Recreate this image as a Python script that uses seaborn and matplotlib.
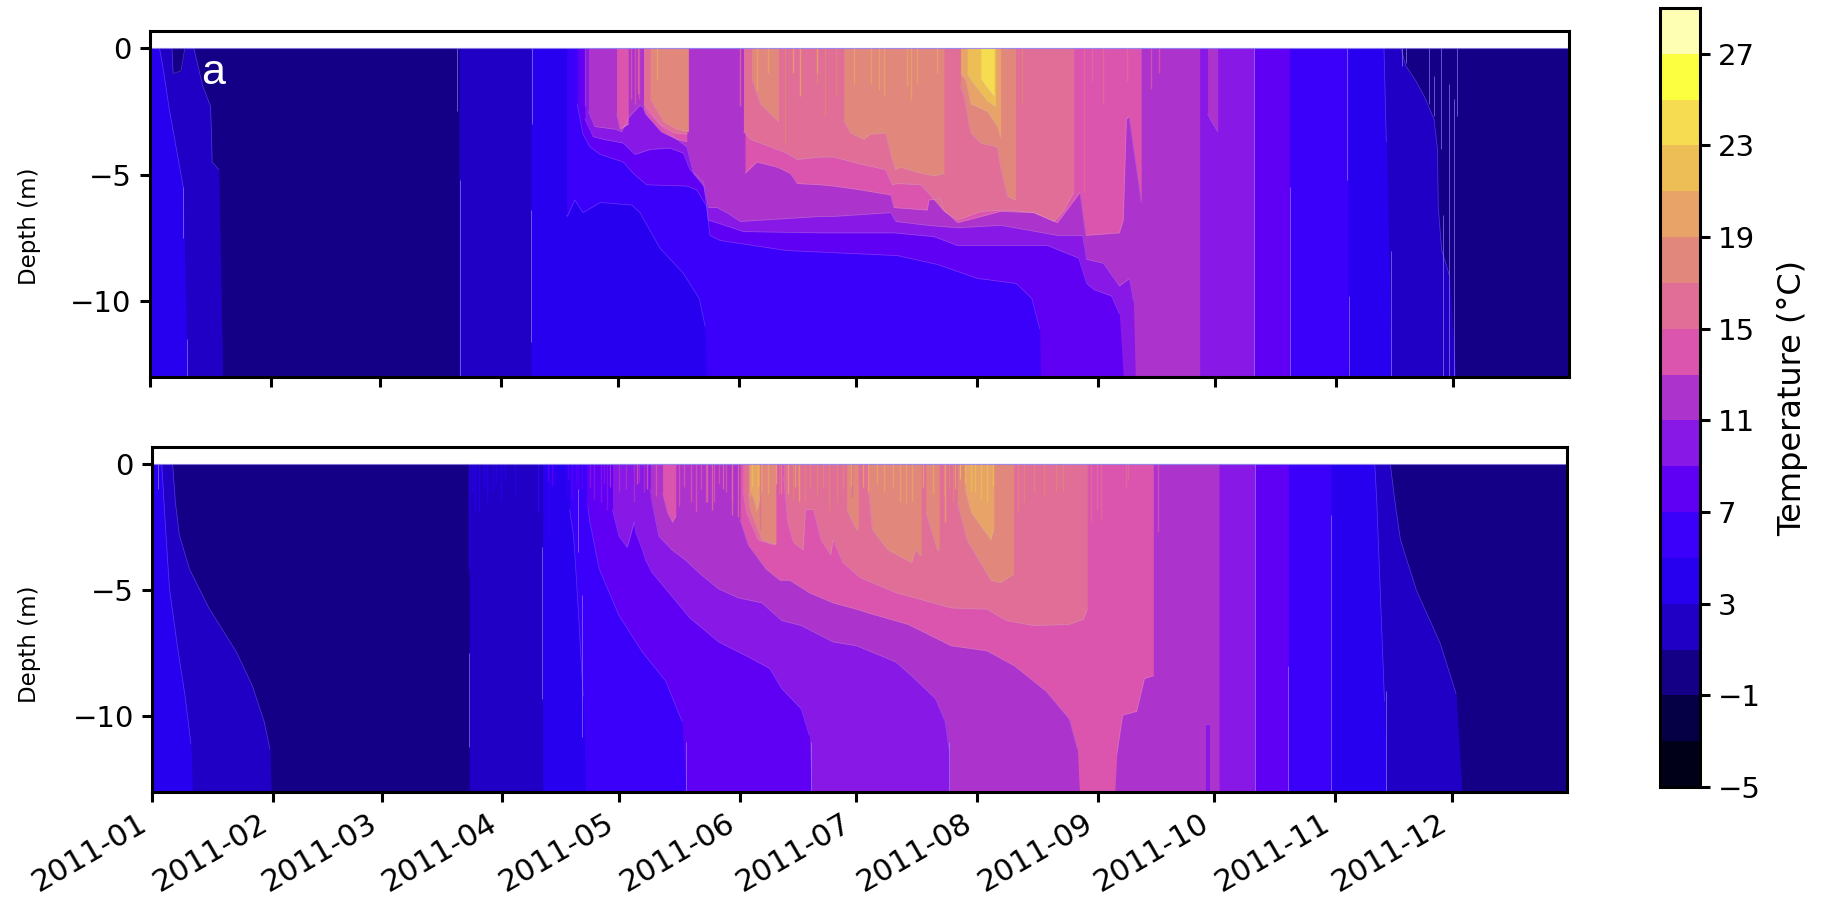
import numpy as np
import pandas as pd
import matplotlib
matplotlib.use("Agg")
import matplotlib.pyplot as plt
import matplotlib.dates as mdates
from matplotlib.cm import ScalarMappable
from matplotlib.colors import BoundaryNorm, ListedColormap
import seaborn as sns

W, H = 1825, 902

LEVELS = [-5, -3, -1, 1, 3, 5, 7, 9, 11, 13, 15, 17, 19, 21, 23, 25, 27, 29]
BAND_COLORS = ["#000019", "#050046", "#140087", "#2000c4", "#2800f0", "#3a00fa", "#5f00f5",
               "#8718e6", "#ac33cb", "#db55ae", "#e06e96", "#e1877b", "#e8a468", "#ecbe55",
               "#f5dc50", "#fcff40", "#ffffb4"]
CBAR_TICKS = [-5, -1, 3, 7, 11, 15, 19, 23, 27]
MONTHS = ["2011-%02d-01" % m for m in range(1, 13)]

# ---- panel a: warm regions (T >= level), day of year, upper and lower depth
A_L1a_DAY = [0, 5.7, 6, 8, 9, 11.3, 11.6, 13.6, 15.6, 16, 17.7, 18.7]
A_L1a_UP = [0, 0, -1, -0.9, 0, 0, -0.2, -1.5, -2.3, -4.5, -4.8, -13]
A_L1b_DAY = [79.2, 320.5, 321.8, 324.4, 326.5, 329, 329.9, 330.1, 331, 333, 334.6]
A_L1b_UP = [0, 0, -0.7, -1.3, -1.9, -2.8, -4, -6.3, -8, -9, -13]
A_L3a_DAY = [0, 2.5, 3.5, 5, 8.6, 9.6]
A_L3a_UP = [0, 0, -0.85, -2.4, -5.5, -13]
A_L3b_DAY = [97.7, 316.2, 316.8, 318.2]
A_L3b_UP = [0, 0, -3.7, -13]
A_L5_DAY = [106.8, 107, 108.9, 111, 115.4, 123.5, 125.6, 130.7, 136.7, 140.8, 142.3, 142.6, 307]
A_L5_LOW = [-6.6, -6.65, -6, -6.5, -6.1, -6.2, -6.5, -7.9, -8.9, -9.9, -11, -13, -13]
A_L7_DAY = [109.5, 111, 112.8, 115.4, 121.3, 123.9, 127.3, 137.6, 140.1, 142.7, 143.5, 146.1, 163.2,
            191.6, 201.8, 212, 222, 226, 228, 228.2, 292]
A_L7_LOW = [-2.2, -3.4, -3.9, -4.2, -4.5, -4.95, -5.4, -5.45, -5.6, -6.25, -7.4, -7.6, -8,
            -8.2, -8.55, -9.1, -9.3, -9.9, -11.1, -13, -13]
A_L9_DAY = [111.5, 113.6, 116.2, 121.3, 124.3, 128.2, 133.3, 136.7, 138.4, 141.9, 143.1, 145.3, 152.1,
            171.8, 190.6, 200.9, 206.9, 230, 238, 240, 242, 246.4, 248.4, 249.4, 283]
A_L9_LOW = [-2.8, -3.5, -3.6, -3.75, -4.2, -4, -3.95, -4.15, -4.8, -5.3, -6.8, -6.9, -7.25,
            -7.3, -7.3, -7.45, -7.8, -7.8, -8.3, -9.3, -9.55, -9.8, -10.5, -13, -13]
A_L11_DAY = [112.4, 114, 119.2, 120.9, 122.6, 125.6, 127.3, 131.6, 135, 137.6, 139.3, 141.9, 143.1, 145.3,
             147.8, 151.3, 171.8, 175.2, 189.8, 191.1, 199.2, 206.9, 218, 232.5, 234, 239, 240, 244.3,
             248.4, 251, 252, 252.5, 269]
A_L11_LOW = [-2.5, -3.1, -3.2, -3.3, -2.75, -2.25, -2.45, -3.15, -3.6, -3.9, -4.95, -5.45, -6.3, -6.3,
             -6.5, -6.85, -6.65, -6.65, -6.5, -6.85, -7, -7.1, -7, -7.4, -7.4, -7.4, -8.35, -8.5,
             -9.4, -9.1, -10, -13, -13]
A_L11s_DAY = [271, 272, 273.6]
A_L11s_LOW = [-2.6, -2.9, -3.3]
A_L13a_DAY = [119.6, 120.5, 122.6]
A_L13a_LOW = [-2.6, -3.2, -3]
A_L13b_DAY = [126.5, 127, 131, 135, 137.6]
A_L13b_LOW = [-2.4, -2.6, -3.3, -3.6, -3.7]
A_L13c_DAY = [152.5, 155.5, 160.7, 164.1, 165.8, 171.8, 175.2, 182, 189.8, 190.6, 199.2, 199.6, 202.6, 203.5,
              206.9, 218, 226.5, 232.5, 234.2, 238.3, 239.8, 248.4, 249.4, 250.2, 250.9, 253.5, 254]
A_L13c_LOW = [-4.95, -4.5, -4.7, -4.95, -5.35, -5.4, -5.45, -5.6, -5.8, -6.3, -6.4, -6, -5.95, -6.4,
              -6.9, -6.45, -6.5, -6.9, -6.55, -5.7, -7.4, -7.3, -6.8, -2.8, -2.7, -5.5, -6.1]
A_L15a_DAY = [126.5, 126.8, 130.7, 134.2, 137.6]
A_L15a_LOW = [-2.2, -2.25, -3, -3.35, -3.4]
A_L15b_DAY = [152.1, 152.5, 153.8, 163.2, 165.8, 171.8, 175.2, 181.2, 188.5, 190.2, 191.5, 197.5, 199.6, 203.5,
              206.9, 212.9, 219.7, 226.5, 231.7, 234.2, 236.7]
A_L15b_LOW = [-3.3, -3.35, -3.6, -4.15, -4.4, -4.3, -4.3, -4.55, -4.8, -5.4, -5.35, -5.4, -5.75, -6.45,
              -6.8, -6.45, -6.4, -6.5, -6.85, -6.4, -5.7]
A_L17a_DAY = [128.2, 128.6, 131.6, 135, 138]
A_L17a_LOW = [-2, -2.1, -2.9, -3.2, -3.3]
A_L17b_DAY = [154.2, 154.7, 156.4, 159.8, 161.1]
A_L17b_LOW = [-1.2, -1.4, -2.2, -2.7, -2.9]
A_L17c_DAY = [177.8, 179.5, 182.9, 184.6, 188.5, 190.2, 191, 192.3, 196.6, 200.9, 203.5]
A_L17c_LOW = [-2.85, -3.35, -3.6, -3.4, -3.35, -4.4, -4.8, -4.7, -4.9, -5.05, -4.95]
A_L17d_DAY = [207.7, 208.6, 210.3, 212.9, 217.1, 218, 219.7, 221.8]
A_L17d_LOW = [-1.5, -1.9, -3.35, -3.75, -3.9, -4.7, -5.85, -6]
A_L19_DAY = [207.7, 209, 210.3, 214.6, 217.1, 218]
A_L19_LOW = [-1, -1.25, -2.2, -2.5, -3.1, -3.55]
A_L21_DAY = [209.4, 210.3, 214.6, 216.7]
A_L21_LOW = [-1, -1.25, -2.1, -2.3]
A_L23_DAY = [212.9, 214.2, 216.3]
A_L23_LOW = [-1.2, -1.5, -1.9]

# panel a surface streaks: day, depth reached, per level
A_S11_DAY = [111.5, 113.2, 116.6, 117.9]
A_S11_D = [-2.3, -2.3, -1.4, -1]
A_S13_DAY = [123.2, 124.2, 125.4, 256.5, 258.5]
A_S13_D = [-2, -2.2, -2, -1.6, -1]
A_S15_DAY = [125, 127, 151.3, 239.3, 241.3, 244.3, 250.4]
A_S15_D = [-1.8, -2, -2.3, -5.7, -1.3, -2.2, -1.3]
A_S17_DAY = [162.8, 171, 173.1, 175.7, 223.5]
A_S17_D = [-3.75, -1.4, -2.7, -1.9, -2.2]
A_S19_DAY = [129.9, 155.5, 158.5, 164.9, 166.6, 170.9, 180.4, 184.8, 186.8, 188.2, 193.9, 195.1, 196.6, 201.7]
A_S19_D = [-1.25, -1.65, -1, -1, -1.9, -1, -1.4, -1.4, -1.65, -1.9, -1.5, -2, -1.4, -1]
# panel a light seams: day, upper depth, lower depth
A_SEAM_DAY = [9.6, 8.6, 78.6, 79.4, 97.7, 97.9, 283, 292.2, 306.8, 307.2, 318,
              320.8, 321.8, 327.8, 329, 330.8, 332.9, 334.2, 334.9, 331.2]
A_SEAM_TOP = [-11.5, -5.5, 0, -5.2, -6.4, 0, 0, -5.5, 0, -9.8, -8,
              0, 0, 0, -1.1, 0, -1.4, -2, 0, -6.6]
A_SEAM_LOW = [-13, -7.5, -2.5, -13, -11.6, -3, -13, -13, -5.2, -13, -13,
              -0.7, -0.6, -2.2, -2.7, -4, -13, -13, -2.7, -13]

# ---- panel b
B_L1a_DAY = [0, 5.3, 6, 7, 9.6, 14.6, 21.7, 25.8, 28.8, 30.3, 30.6]
B_L1a_UP = [0, 0, -1.5, -2.8, -4.15, -5.7, -7.45, -8.8, -10.2, -11.3, -13]
B_L1b_DAY = [81.5, 318.2, 319.3, 320.8, 324.9, 331, 335.1, 336.6]
B_L1b_UP = [0, 0, -1.4, -3, -5, -7.1, -9.1, -13]
B_L3a_DAY = [0, 2.5, 3.5, 4.5, 6.5, 8.5, 10, 10.4]
B_L3a_UP = [0, 0, -2.6, -4.95, -7.2, -9.2, -11.1, -13]
B_L3b_DAY = [100.4, 314.2, 314.7, 315.7, 316.7, 317.2]
B_L3b_UP = [0, 0, -1.4, -5.4, -9.4, -13]
B_L5_DAY = [107.3, 108.3, 108.8, 109.8, 110.8, 111.4, 302.9]
B_L5_LOW = [-1.8, -2.8, -3.9, -6.5, -9.2, -13, -13]
B_L7_DAY = [111.9, 112.4, 114.9, 120, 126, 132, 136.2, 137.2, 292]
B_L7_LOW = [-1.5, -2.2, -4.15, -6, -7.45, -8.6, -10.2, -13, -13]
B_L9_DAY = [118.3, 120, 122.1, 123.9, 124.3, 126, 126.8, 128.5, 132.8, 138.2, 145.6, 152.7, 158.7, 161.8,
            166.8, 168.9, 169.4, 283.4]
B_L9_LOW = [-1.8, -2.85, -3.3, -2.3, -2.7, -3.4, -3.8, -4.3, -5.1, -6.1, -7.05, -7.6, -8.1, -8.9,
            -9.7, -10.75, -13, -13]
B_L11_DAY = [128.1, 128.5, 130.2, 133.6, 137, 141.2, 145.6, 150.6, 156.7, 161.8, 166.8, 175, 181, 191.2, 195.2,
             201.3, 203.8, 204.8, 204.9, 270.7, 270.7, 271.7, 271.7, 274.2]
B_L11_LOW = [-1, -1.5, -2.85, -3.4, -3.8, -4.4, -4.95, -5.3, -5.5, -6.2, -6.4, -7.05, -7.2, -7.85, -8.4,
             -9.3, -10.2, -11.3, -13, -13, -10.3, -10.3, -13, -13]
B_L13a_DAY = [131.2, 132.4, 133.7, 134.6]
B_L13a_LOW = [-1.15, -1.9, -2.3, -2.05]
B_L13b_DAY = [151.1, 153.2, 157.7, 161.3, 163.8, 168.9, 175, 181, 184, 194.2, 205.3, 214.5, 221.6, 229.7,
              235.7, 237.8, 238.3, 247.4, 247.9, 249.4, 253, 255, 257, 257.3]
B_L13b_LOW = [-2.2, -3.2, -4.15, -4.6, -4.6, -5.1, -5.5, -5.75, -5.9, -6.35, -7.2, -7.4, -8, -9,
              -10.1, -11.3, -13, -13, -11.5, -9.95, -9.8, -8.5, -8.4, -8.4]
B_L15a_DAY = [151.8, 152.7, 155.7, 159.8, 160.3]
B_L15a_LOW = [-1, -1.9, -3, -3.2, -3.2]
B_L15b_DAY = [162.3, 163.3, 164.8, 167.3, 167.9, 169.9, 171.9, 174.4, 175, 177.5, 182, 191.2, 198.3, 205.3,
              214.5, 219.5, 226.6, 235.7, 239.3, 240.3]
B_L15b_LOW = [-0.5, -2.3, -3.1, -3.4, -1.8, -1.8, -3, -3.6, -3, -3.9, -4.5, -5.1, -5.4, -5.7,
              -5.75, -6.2, -6.4, -6.35, -6.15, -5.75]
B_L17a_DAY = [153.2, 153.7, 156.7, 159.8, 160.3]
B_L17a_LOW = [-1.2, -1.8, -3, -3.15, -3.15]
B_L17b_DAY = [178.5, 181, 181.5]
B_L17b_LOW = [-1.8, -2.6, -2.6]
B_L17c_DAY = [184.1, 185.1, 189.1, 195.2, 196.2, 197.2, 197.7]
B_L17c_LOW = [-1, -2.6, -3.4, -3.9, -3.4, -3.6, -3.6]
B_L17d_DAY = [198.8, 201.8, 202.3]
B_L17d_LOW = [-1.9, -3.4, -3.4]
B_L17e_DAY = [206.9, 209.4, 215.5, 218, 221, 221.4]
B_L17e_LOW = [-1.5, -3, -4.6, -4.7, -4.4, -4.4]
B_L19a_DAY = [153.7, 155.5, 156.7]
B_L19a_LOW = [-1, -1.8, -1]
B_L19b_DAY = [208.9, 210.4, 215.5, 216.3]
B_L19b_LOW = [-1, -1.9, -3, -2.6]

B_S3_DAY = [81.5, 82.2, 82.9, 84, 85.2, 86.1, 87.6, 88.4, 89.6, 90.6, 93.2]
B_S3_D = [-4.15, -1.1, -1.8, -1.9, -0.9, -1.5, -1.05, -0.7, -1.45, -0.6, -1.3]
B_S5_DAY = [99.2, 102, 103.3, 106.3]
B_S5_D = [-1.9, -2.85, -0.8, -1.25]
B_S7_DAY = [101.7, 102.9, 106.8, 107.8, 108.9, 109.4, 110.6, 111.9]
B_S7_D = [-0.7, -0.85, -0.6, -1.4, -0.85, -1.1, -1, -1.8]
B_S9_DAY = [112.6, 113.6, 115.3, 116.2, 117, 119.2]
B_S9_D = [-0.9, -1.4, -1.5, -0.8, -1.8, -1.1]
B_S11_DAY = [117.8, 120, 121.8, 123.9, 125.2, 126.5, 128.2, 258]
B_S11_D = [-0.9, -1.1, -1, -1.5, -0.7, -1.1, -1.4, -2.7]
B_S13_DAY = [124.6, 127.3, 129.4, 135.4, 136.6, 138.4, 139.7, 141, 142.3, 144.4, 145.8, 147.4, 149.1, 258.4]
B_S13_D = [-0.8, -1, -1.25, -1.65, -0.9, -1.5, -1.9, -1, -1.5, -1.5, -0.8, -1.1, -1.5, -2.7]
B_S15_DAY = [142.5, 144, 146.8, 149.1, 150.6, 156.3, 161, 172.6, 177, 180, 241.3, 242.8, 243.8, 250.4, 250.9]
B_S15_D = [-1.5, -1.8, -1, -2, -2.1, -2.6, -1.2, -1.4, -1.2, -1.3, -2.3, -1.8, -2.2, -0.9, -0.6]
B_S17_DAY = [158.4, 161.6, 164.8, 166, 167.9, 169.2, 170.9, 172.4, 173.9, 176, 177.6, 179, 203.4, 204.8, 205.9,
             222.6, 224.1, 226.6, 229.2, 232.2, 234.2]
B_S17_D = [-1, -1.2, -1.4, -0.9, -1.5, -1, -1.25, -0.9, -1.8, -1.5, -1, -1.5, -1.3, -1, -1.5,
           -1.9, -1.5, -1.1, -1.25, -1.1, -1.05]
B_S19_DAY = [153.7, 155.2, 158.2, 160.4, 163.3, 165.1, 166.3, 179.5, 182.8, 184.1, 186.2, 188.1, 190.4, 192.2,
             193.7, 195.2, 198, 200.8, 203.8, 206.4]
B_S19_D = [-1.25, -1.85, -1.2, -0.8, -1.2, -0.9, -1.45, -0.85, -0.9, -1.1, -0.8, -1.1, -0.9, -1.5,
           -1.55, -1.45, -0.9, -1.2, -2.3, -1]
B_S21_DAY = [154.2, 155.7, 207.5, 209, 210.4, 211.4, 212.9, 214.5, 216]
B_S21_D = [-0.85, -0.85, -0.6, -0.8, -1.1, -1.1, -1.4, -1.5, -0.85]
B_SEAM_DAY = [81.5, 100.2, 109.4, 110.6, 137.2, 169.4, 204.9, 283.4, 292, 303, 317, 1.6]
B_SEAM_TOP = [-7.5, -3.3, -1, -5.2, -11, -11, -11, 0, -8, -2, -9, 0]
B_SEAM_LOW = [-11.2, -9.3, -3.5, -10.8, -13, -13, -13, -13, -13, -13, -13, -1]

A_REGIONS = [
    (1, A_L1a_DAY, A_L1a_UP, None), (1, A_L1b_DAY, A_L1b_UP, None),
    (3, A_L3a_DAY, A_L3a_UP, None), (3, A_L3b_DAY, A_L3b_UP, None),
    (5, A_L5_DAY, None, A_L5_LOW), (7, A_L7_DAY, None, A_L7_LOW), (9, A_L9_DAY, None, A_L9_LOW),
    (11, A_L11_DAY, None, A_L11_LOW), (11, A_L11s_DAY, None, A_L11s_LOW),
    (13, A_L13a_DAY, None, A_L13a_LOW), (13, A_L13b_DAY, None, A_L13b_LOW), (13, A_L13c_DAY, None, A_L13c_LOW),
    (15, A_L15a_DAY, None, A_L15a_LOW), (15, A_L15b_DAY, None, A_L15b_LOW),
    (17, A_L17a_DAY, None, A_L17a_LOW), (17, A_L17b_DAY, None, A_L17b_LOW),
    (17, A_L17c_DAY, None, A_L17c_LOW), (17, A_L17d_DAY, None, A_L17d_LOW),
    (19, A_L19_DAY, None, A_L19_LOW), (21, A_L21_DAY, None, A_L21_LOW), (23, A_L23_DAY, None, A_L23_LOW),
]
A_STREAKS = [(11, A_S11_DAY, A_S11_D), (13, A_S13_DAY, A_S13_D), (15, A_S15_DAY, A_S15_D),
             (17, A_S17_DAY, A_S17_D), (19, A_S19_DAY, A_S19_D)]
B_REGIONS = [
    (1, B_L1a_DAY, B_L1a_UP, None), (1, B_L1b_DAY, B_L1b_UP, None),
    (3, B_L3a_DAY, B_L3a_UP, None), (3, B_L3b_DAY, B_L3b_UP, None),
    (5, B_L5_DAY, None, B_L5_LOW), (7, B_L7_DAY, None, B_L7_LOW), (9, B_L9_DAY, None, B_L9_LOW),
    (11, B_L11_DAY, None, B_L11_LOW), (13, B_L13a_DAY, None, B_L13a_LOW), (13, B_L13b_DAY, None, B_L13b_LOW),
    (15, B_L15a_DAY, None, B_L15a_LOW), (15, B_L15b_DAY, None, B_L15b_LOW),
    (17, B_L17a_DAY, None, B_L17a_LOW), (17, B_L17b_DAY, None, B_L17b_LOW), (17, B_L17c_DAY, None, B_L17c_LOW),
    (17, B_L17d_DAY, None, B_L17d_LOW), (17, B_L17e_DAY, None, B_L17e_LOW),
    (19, B_L19a_DAY, None, B_L19a_LOW), (19, B_L19b_DAY, None, B_L19b_LOW),
]
B_STREAKS = [(3, B_S3_DAY, B_S3_D), (5, B_S5_DAY, B_S5_D), (7, B_S7_DAY, B_S7_D), (9, B_S9_DAY, B_S9_D),
             (11, B_S11_DAY, B_S11_D), (13, B_S13_DAY, B_S13_D), (15, B_S15_DAY, B_S15_D),
             (17, B_S17_DAY, B_S17_D), (19, B_S19_DAY, B_S19_D), (21, B_S21_DAY, B_S21_D)]

sns.set_theme(style="ticks", rc={"axes.linewidth": 2.2, "xtick.major.width": 2.2, "ytick.major.width": 2.2,
                                 "xtick.major.size": 7, "ytick.major.size": 7, "axes.edgecolor": "black",
                                 "xtick.color": "black", "ytick.color": "black", "text.color": "black",
                                 "axes.labelcolor": "black"})
plt.rcParams["font.family"] = ["DejaVu Sans"]
START = pd.Timestamp("2011-01-01")


def to_dates(days):
    return (START + pd.to_timedelta(np.asarray(days, dtype=float), unit="D")).values


def band_color(level):
    return BAND_COLORS[LEVELS.index(level)]


def box(left, top, right, bottom):
    return [left / W, 1 - bottom / H, (right - left) / W, (bottom - top) / H]


def panel(ax, regions, streaks, seam_day, seam_top, seam_low):
    ax.fill_between(to_dates([0, 366]), 0, -13, color=band_color(-1), lw=0)
    for level, day, up, low in regions:
        n = len(day)
        up_v = np.zeros(n) if up is None else np.array(up, dtype=float)
        low_v = np.full(n, -13.0) if low is None else np.array(low, dtype=float)
        ax.fill_between(to_dates(day), up_v, low_v, color=band_color(level), lw=0)
        edge = up_v if low is None else low_v
        keep = edge > -12.9
        # the seam is drawn only where the isotherm stays inside the water column, one run at a time
        runs = np.split(np.arange(n), np.where(np.diff(keep.astype(int)) != 0)[0] + 1)
        for run in runs:
            if keep[run[0]] and len(run) > 1:
                frame = pd.DataFrame({"date": to_dates(np.array(day)[run]), "depth": edge[run]})
                sns.lineplot(data=frame, x="date", y="depth", ax=ax, color="#cbb6ff", lw=0.5, alpha=0.3,
                             sort=False, estimator=None, legend=False)
    for level, day, depth in streaks:
        ax.vlines(to_dates(day), depth, 0, color=band_color(level), lw=1.0, alpha=0.8)
    ax.vlines(to_dates(seam_day), seam_low, seam_top, color="#9f8cff", lw=0.7, alpha=0.6)
    ax.axhline(0, color="#9a90f0", lw=0.8, alpha=0.8)
    ax.set_ylim(-13, 0.68)
    ax.set_xlim(to_dates([0])[0], to_dates([363.6])[0])
    ax.set_yticks([0, -5, -10])
    ax.set_yticklabels(["0", "\u22125", "\u221210"])
    ax.set_xticks(pd.to_datetime(MONTHS).values)
    ax.xaxis.set_major_formatter(mdates.DateFormatter("%Y-%m"))
    ax.minorticks_off()
    ax.set_xlabel("")
    ax.set_ylabel("")
    ax.tick_params(axis="y", labelsize=21, pad=6)
    ax.tick_params(axis="x", labelsize=22, pad=5)
    for s in ax.spines.values():
        s.set_visible(True)
        s.set_zorder(5)


fig = plt.figure(figsize=(W / 100, H / 100), dpi=100, facecolor="white")
ax_a = fig.add_axes(box(149.7, 31, 1569, 377))
ax_b = fig.add_axes(box(152, 447, 1567, 792))
cax = fig.add_axes(box(1659.5, 8, 1700, 787))

panel(ax_a, A_REGIONS, A_STREAKS, A_SEAM_DAY, A_SEAM_TOP, A_SEAM_LOW)
panel(ax_b, B_REGIONS, B_STREAKS, B_SEAM_DAY, B_SEAM_TOP, B_SEAM_LOW)
ax_a.tick_params(axis="x", labelbottom=False)
for lab in ax_b.get_xticklabels():
    lab.set_rotation(30)
    lab.set_ha("right")

norm = BoundaryNorm(LEVELS, len(BAND_COLORS))
cbar = fig.colorbar(ScalarMappable(norm=norm, cmap=ListedColormap(BAND_COLORS)), cax=cax,
                    ticks=CBAR_TICKS, spacing="proportional", drawedges=False)
cbar.ax.set_yticklabels([("\u2212%d" % abs(t)) if t < 0 else str(t) for t in CBAR_TICKS])
cbar.ax.tick_params(labelsize=21, length=7, width=2.2, pad=6)
cbar.ax.minorticks_off()
cbar.outline.set_linewidth(2.2)

fig.text(30 / W, 1 - 226 / H, "Depth (m)", rotation=90, ha="center", va="center", fontsize=16.5)
fig.text(30 / W, 1 - 644 / H, "Depth (m)", rotation=90, ha="center", va="center", fontsize=16.5)
fig.text(1793 / W, 1 - 398 / H, "Temperature (\u00b0C)", rotation=90, ha="center", va="center", fontsize=23)
fig.text(201 / W, 1 - 84 / H, "a", color="white", family="Liberation Sans", fontsize=31, ha="left", va="baseline")

fig.savefig("out.png", dpi=100, facecolor="white")
